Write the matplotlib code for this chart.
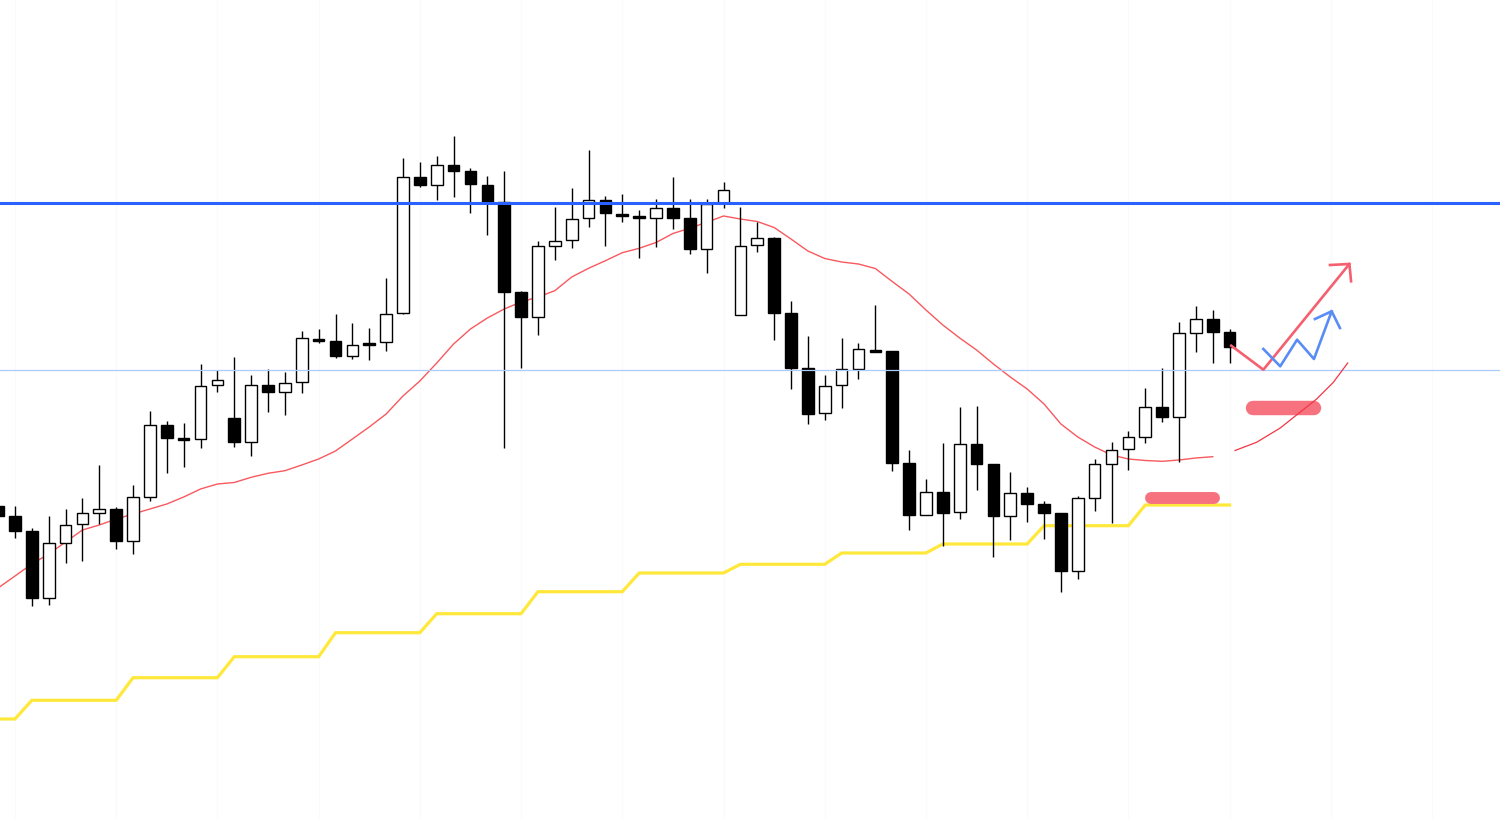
import numpy as np
import matplotlib
matplotlib.use("Agg")
import matplotlib.pyplot as plt

# ---- candle data (price units) ----
opens = [312.7, 303.3, 288.3, 221.0, 276.0, 294.7, 306.3, 310.3, 277.7, 322.0,
         394.3, 381.0, 379.7, 434.0, 401.3, 377.0, 434.3, 426.7, 436.7, 480.5,
         478.3, 463.0, 476.2, 476.7, 506.2, 641.7, 634.3, 654.0, 647.7, 634.3,
         617.3, 526.7, 502.3, 572.7, 578.7, 600.7, 618.7, 605.3, 602.7, 600.7,
         611.3, 600.7, 570.0, 615.7, 504.5, 574.0, 581.3, 506.3, 450.7, 405.7,
         434.3, 450.0, 469.5, 467.7, 356.3, 304.3, 327.0, 306.7, 375.3, 355.0,
         303.0, 325.7, 315.3, 305.7, 248.3, 321.3, 355.0, 369.7, 382.3, 412.3,
         402.3, 486.3, 500.3, 487.3]
highs = [317.0, 313.3, 291.0, 302.7, 310.3, 321.0, 354.3, 312.0, 334.0, 408.5,
         398.0, 396.0, 455.0, 449.3, 462.0, 444.0, 450.0, 446.7, 487.7, 490.3,
         505.3, 496.3, 491.3, 540.7, 660.7, 656.7, 663.3, 682.7, 651.0, 642.7,
         647.7, 528.3, 578.3, 611.7, 630.7, 669.0, 623.3, 624.7, 609.0, 619.7,
         641.7, 619.7, 620.0, 636.7, 611.7, 597.0, 582.0, 517.7, 483.0, 444.0,
         481.3, 475.7, 514.0, 468.0, 368.7, 340.0, 376.0, 411.7, 412.7, 355.5,
         346.7, 331.7, 317.7, 306.0, 323.3, 360.0, 376.7, 387.7, 430.7, 450.7,
         497.3, 512.7, 509.3, 490.0]
lows = [300.0, 281.0, 213.0, 214.0, 255.7, 258.3, 294.7, 270.0, 264.7, 318.3,
        346.0, 352.0, 370.7, 427.3, 372.0, 363.3, 407.3, 404.3, 426.0, 476.0,
        460.7, 459.7, 459.0, 467.7, 505.5, 631.7, 618.7, 622.3, 605.7, 584.0,
        371.0, 450.7, 484.0, 559.5, 571.0, 591.7, 572.7, 596.7, 561.0, 572.3,
        589.7, 565.3, 545.7, 610.7, 504.0, 566.7, 479.0, 430.0, 394.7, 398.7,
        411.0, 440.0, 467.0, 348.3, 289.0, 304.0, 273.3, 300.0, 329.0, 261.7,
        279.3, 297.3, 280.0, 226.7, 240.0, 308.0, 295.7, 349.3, 375.7, 397.3,
        357.3, 466.7, 456.0, 456.3]
closes = [303.3, 288.3, 221.0, 275.7, 294.3, 306.0, 310.0, 277.7, 321.7, 394.3,
          381.0, 379.5, 433.3, 438.7, 376.7, 434.0, 426.7, 436.0, 480.7, 478.5,
          463.0, 474.3, 474.5, 505.5, 641.7, 634.3, 654.0, 647.7, 635.0, 617.3,
          526.7, 502.3, 572.7, 578.2, 600.0, 618.7, 605.7, 603.0, 600.7, 611.3,
          601.0, 570.0, 614.7, 629.0, 573.3, 581.0, 506.3, 450.7, 405.3, 433.3,
          449.7, 469.7, 467.5, 356.3, 304.3, 327.0, 306.3, 375.3, 355.0, 303.0,
          325.7, 315.3, 305.7, 248.3, 321.0, 355.0, 369.3, 381.7, 412.3, 402.3,
          486.3, 500.3, 487.3, 471.7]

# moving average (red)
ma = [231, 243, 255, 265, 277, 289, 294, 300, 305, 310,
      315, 322, 330, 335, 336.5, 341.7, 345.7, 348.3, 354, 360,
      368, 380, 392, 405, 423, 438, 456, 475, 490, 501,
      510, 517, 522, 528.3, 542, 550.7, 558.3, 566.3, 570.7, 576.5,
      585.5, 590.8, 596.7, 603, 600, 597.5, 591.5, 580, 568, 560.5,
      557, 555, 550.5, 537.5, 525, 509, 494, 481, 469, 455,
      442, 430, 415, 395, 382, 372, 364, 360, 358.5, 357.7,
      359, 361, 362.3]

# weekly step line (yellow): level and number of candles in each week
yellow_levels = [100.0, 118.7, 141.3, 162.3, 186.3, 205.3, 227.3, 246.0,
                 254.7, 266.0, 275.0, 293.3, 314.0]
yellow_counts = [2, 6, 6, 6, 6, 6, 6, 6, 6, 6, 6, 6, 6]

# horizontal levels
resistance_level = 616.5
support_level = 449.5

# hand-drawn annotations (x in candle index, y in price)
red_path_x = [73.1, 75.0, 80.1]
red_path_y = [473.3, 449.3, 555.0]
red_head_x = [78.95, 80.1, 80.2]
red_head_y = [554.0, 555.0, 537.7]
blue_path_x = [75.0, 76.0, 77.0, 78.0, 79.05]
blue_path_y = [470.0, 452.7, 479.3, 460.0, 507.7]
blue_head_x = [78.06, 79.05, 79.54]
blue_head_y = [500.0, 507.7, 491.0]
curve_x = [73.32, 74.6, 76.0, 77.17, 78.16, 79.15, 80.0]
curve_y = [368.5, 376.7, 391.0, 406.7, 420.0, 436.7, 456.0]
pill1_x = [68.34, 72.08]
pill1_y = [321.0, 321.0]
pill2_x = [74.4, 78.0]
pill2_y = [411.0, 411.0]

# ---- drawing ----
fig = plt.figure(figsize=(15, 8.2), dpi=100)
ax = fig.add_axes([0, 0, 1, 1])
px = 16.87
ax.set_xlim((0 + 1.9) / px, (1500 + 1.9) / px)
ax.set_ylim(0, 820)
ax.axis("off")

idx = np.arange(len(opens))
o = np.array(opens); h = np.array(highs); l = np.array(lows); c = np.array(closes)

# very faint grid
for gx in range(1, 90, 6):
    ax.axvline(gx, color="#FAFAFB", lw=0.8, zorder=0)

# yellow step line
yellow = np.repeat(yellow_levels, yellow_counts)
ax.plot(idx[:len(yellow)], yellow, color="#FFE83A", lw=2.3, zorder=2,
        solid_joinstyle="miter")

# moving average
ax.plot(idx[:len(ma)], ma, color="#F8595F", lw=1.0, zorder=2)
ax.plot(curve_x, curve_y, color="#F23645", lw=0.9, zorder=6)

# candles
ax.vlines(idx, l, h, color="black", lw=1.0, zorder=3)
bottoms = np.minimum(o, c)
heights = np.maximum(np.abs(c - o), 1.2)
face = ["white" if cc >= oo else "black" for oo, cc in zip(o, c)]
ax.bar(idx, heights, bottom=bottoms, width=0.69, color=face,
       edgecolor="black", linewidth=1.0, zorder=4)

# horizontal lines
ax.axhline(resistance_level, color="#2962FF", lw=2.2, zorder=5)
ax.axhline(support_level, color="#A9CCF8", lw=0.9, zorder=5)

# pills
ax.plot(pill1_x, pill1_y, color="#F7727F", lw=8.6, solid_capstyle="round", zorder=5)
ax.plot(pill2_x, pill2_y, color="#F7727F", lw=10.4, solid_capstyle="round", zorder=5)

# arrows
ax.plot(red_path_x, red_path_y, color="#F4606F", lw=1.9, zorder=7)
ax.plot(red_head_x, red_head_y, color="#F4606F", lw=1.9, zorder=7)
ax.plot(blue_path_x, blue_path_y, color="#5A8CF5", lw=1.9, zorder=7)
ax.plot(blue_head_x, blue_head_y, color="#5A8CF5", lw=1.9, zorder=7)

fig.savefig("out.png", dpi=100, facecolor="white")
